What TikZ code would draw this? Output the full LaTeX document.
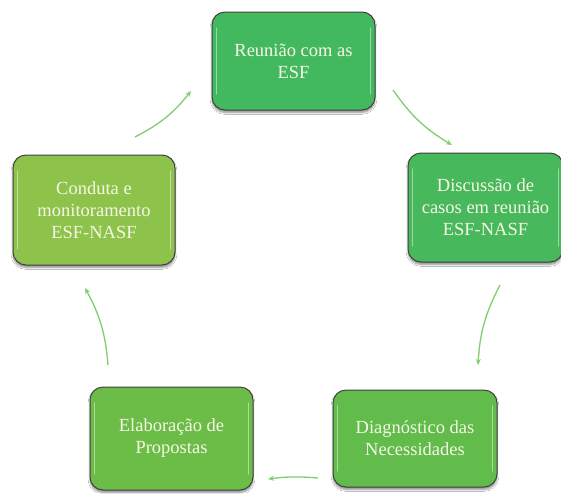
\documentclass[tikz,border=0pt]{standalone}
\usepackage{fontspec}
\setmainfont{Liberation Serif}
\usetikzlibrary{shadows.blur,arrows.meta}
\definecolor{gA}{RGB}{66,185,95}
\definecolor{gB}{RGB}{72,184,92}
\definecolor{gC}{RGB}{98,188,76}
\definecolor{gD}{RGB}{108,189,72}
\definecolor{gE}{RGB}{141,195,75}
\definecolor{txt}{RGB}{246,246,228}
\definecolor{arr}{RGB}{128,206,112}
\tikzset{
  box/.style={draw=black!75, line width=1pt, rounded corners=13pt, align=center,
    text=txt, font=\fontsize{18.5}{22}\selectfont, inner sep=0pt,
    blur shadow={shadow xshift=0pt, shadow yshift=-2.5pt, shadow blur steps=6, shadow opacity=45},
    path picture={
      \draw[white,opacity=0.45,line width=1.2pt,line cap=round]
        ([xshift=4.5pt,yshift=-16pt]path picture bounding box.north west) --
        ([xshift=4.5pt,yshift=16pt]path picture bounding box.south west);
      \draw[white,opacity=0.45,line width=1.2pt,line cap=round]
        ([xshift=-4.5pt,yshift=-16pt]path picture bounding box.north east) --
        ([xshift=-4.5pt,yshift=16pt]path picture bounding box.south east);
    }},
  flow/.style={draw=arr, line width=1.3pt, -{Stealth[length=6pt,width=5pt]}}
}
\begin{document}
\begin{tikzpicture}[x=1pt,y=-1pt]
\useasboundingbox (0,0) rectangle (561,493);
\fill[white] (0,0) rectangle (561,493);
\begin{scope}
\clip (0,0) rectangle (561,493);
\node[box, fill=gA, minimum width=163pt, minimum height=98pt] (reu) at (293.5,61) {Reunião com as\\ESF};
\node[box, fill=gB, minimum width=155pt, minimum height=109pt] (disc) at (485.5,207.5) {Discussão de\\casos em reunião\\ESF-NASF};
\node[box, fill=gC, minimum width=164pt, minimum height=97pt] (diag) at (415,438.5) {Diagnóstico das\\Necessidades};
\node[box, fill=gD, minimum width=163pt, minimum height=103pt] (elab) at (171.5,438.5) {Elaboração de\\Propostas};
\node[box, fill=gE, minimum width=162pt, minimum height=110pt] (cond) at (94,210) {Conduta e\\monitoramento\\ESF-NASF};
\end{scope}
\coordinate (a1s) at (393,90);  \coordinate (a1e) at (452,145);
\coordinate (a2s) at (500,285); \coordinate (a2e) at (478,365);
\coordinate (a3s) at (318,478); \coordinate (a3e) at (268,479);
\coordinate (a4s) at (108,365); \coordinate (a4e) at (85,288);
\coordinate (a5s) at (135,137); \coordinate (a5e) at (191,91);
\draw[flow] (a1s) to[bend right=12] (a1e);
\draw[flow] (a2s) to[bend right=12] (a2e);
\draw[flow] (a3s) to[bend right=6] (a3e);
\draw[flow] (a4s) to[bend right=12] (a4e);
\draw[flow] (a5s) to[bend right=12] (a5e);
\end{tikzpicture}
\end{document}
